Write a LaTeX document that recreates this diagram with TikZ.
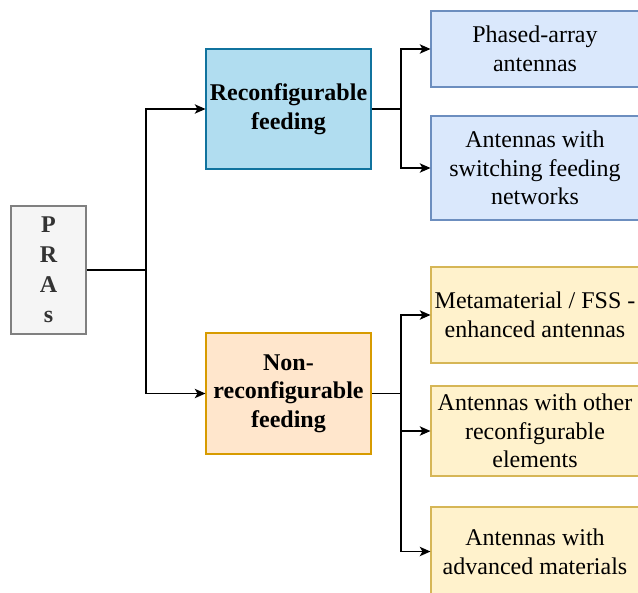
\documentclass[tikz,border=0pt]{standalone}
\usepackage{fontspec}
\setmainfont{Liberation Serif}
\usetikzlibrary{arrows.meta}
\definecolor{grayfill}{HTML}{F5F5F5}
\definecolor{graydraw}{HTML}{808080}
\definecolor{grayfont}{HTML}{333333}
\definecolor{bluefill}{HTML}{B1DDF0}
\definecolor{bluedraw}{HTML}{10739E}
\definecolor{lbluefill}{HTML}{DAE8FC}
\definecolor{lbluedraw}{HTML}{6C8EBF}
\definecolor{orangefill}{HTML}{FFE6CC}
\definecolor{orangedraw}{HTML}{D79B00}
\definecolor{yellowfill}{HTML}{FFF2CC}
\definecolor{yellowdraw}{HTML}{D6B656}
\tikzset{
  box/.style={draw, line width=0.8pt, align=center, inner sep=0pt,
    font=\fontsize{18}{21.5}\selectfont},
  prasbox/.style={box, fill=grayfill, draw=graydraw, text=grayfont,
    minimum width=56.25pt, minimum height=96pt,
    font=\fontsize{18}{22.5}\selectfont\bfseries},
  midblue/.style={box, fill=bluefill, draw=bluedraw, minimum width=123.75pt,
    minimum height=90pt, font=\fontsize{18}{21.5}\selectfont\bfseries},
  midorange/.style={box, fill=orangefill, draw=orangedraw, minimum width=123.75pt,
    minimum height=90.75pt, font=\fontsize{18}{21.5}\selectfont\bfseries},
  leafblue/.style={box, fill=lbluefill, draw=lbluedraw, minimum width=156pt},
  leafyellow/.style={box, fill=yellowfill, draw=yellowdraw, minimum width=156pt},
  conn/.style={line width=1.1pt},
  arr/.style={conn, -{Stealth[length=8pt,width=7pt,inset=2pt]}}
}
\begin{document}
\begin{tikzpicture}[x=0.75pt,y=-0.75pt]
\clip (0,0) rectangle (638,592);
\fill[white] (0,0) rectangle (638,592);
\node[prasbox] (pras) at (48.5,270) {P\\R\\A\\s};
\node[midblue] (rf) at (288.5,109) {Reconfigurable\\feeding};
\node[midorange] (nrf) at (288.5,393.5) {Non-\\reconfigurable\\feeding};
\node[leafblue, minimum height=57pt] (pa) at (535,49) {Phased-array\\antennas};
\node[leafblue, minimum height=78pt] (sw) at (535,168) {Antennas with\\switching feeding\\networks};
\node[leafyellow, minimum height=72pt] (meta) at (535,315) {Metamaterial / FSS -\\enhanced antennas};
\node[leafyellow, minimum height=67.5pt] (other) at (535,431) {Antennas with other\\reconfigurable\\elements};
\node[leafyellow, minimum height=66.75pt] (adv) at (535,551.5) {Antennas with\\advanced materials};
\coordinate (j1) at (146,270);
\coordinate (j2) at (401,109);
\coordinate (j3) at (401,393.5);
\draw[conn] (pras.east) -- (j1);
\draw[arr] (j1) |- (rf.west);
\draw[arr] (j1) |- (nrf.west);
\draw[conn] (rf.east) -- (j2);
\draw[arr] (j2) |- (pa.west);
\draw[arr] (j2) |- (sw.west);
\draw[conn] (nrf.east) -- (j3);
\draw[arr] (j3) |- (meta.west);
\draw[arr] (j3) |- (other.west);
\draw[arr] (j3) |- (adv.west);
\end{tikzpicture}
\end{document}
